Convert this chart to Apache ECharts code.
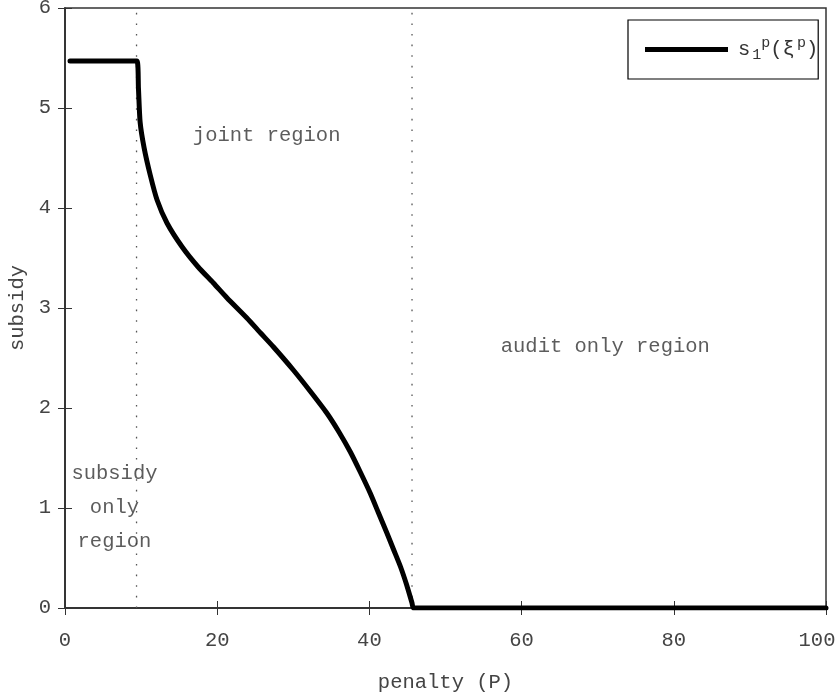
<!DOCTYPE html>
<html>
<head>
<meta charset="utf-8">
<script src="https://cdn.jsdelivr.net/npm/echarts@6/dist/echarts.min.js"></script>
<style>
  html, body { margin: 0; padding: 0; background: #fff; }
  #chart { width: 840px; height: 699px; }
</style>
</head>
<body>
<div id="chart"></div>
<script>
  // subsidy s_1^p(xi^p) against penalty P
  var penalty = [0.66, 9.45, 9.65, 9.87, 10.4, 11.2, 12.1, 13.4, 15.4, 17.5, 19.5, 21.3, 23.9, 25.7, 27.4, 30.0, 32.2, 34.4, 36.0, 37.5, 38.8, 40.1, 41.2, 42.3, 43.2, 44.1, 44.9, 45.6, 45.8, 60, 80, 100];
  var subsidy = [5.47, 5.47, 5.20, 4.86, 4.60, 4.33, 4.08, 3.85, 3.61, 3.41, 3.25, 3.10, 2.90, 2.75, 2.61, 2.38, 2.17, 1.95, 1.76, 1.56, 1.36, 1.15, 0.95, 0.75, 0.58, 0.41, 0.23, 0.05, 0.0, 0.0, 0.0, 0.0];
  var regionBounds = [9.4, 45.6];
  var xTicks = [0, 20, 40, 60, 80, 100];
  var yTicks = [0, 1, 2, 3, 4, 5, 6];
  var regionLabels = ['joint region', 'audit only region', 'subsidy\nonly\nregion'];
  var regionLabelPos = [[26.5, 4.72], [71, 2.61], [6.5, 1.0]];

  var FONT = '"Liberation Mono", "DejaVu Sans Mono", monospace';
  var FS = 20.5;
  var chart = echarts.init(document.getElementById('chart'), null, { renderer: 'canvas' });

  var lineData = penalty.map(function (p, i) { return [p, subsidy[i]]; });
  var boundSeries = regionBounds.map(function (b) {
    return {
      type: 'line', silent: true, symbol: 'none', animation: false,
      data: [[b, 0], [b, 6]],
      lineStyle: { color: '#555', width: 1.3, type: [1.6, 9] }
    };
  });
  var labelData = regionLabels.map(function (t, i) {
    return { value: regionLabelPos[i], name: t };
  });

  var axisText = { color: '#444', fontFamily: FONT, fontSize: FS };

  chart.setOption({
    animation: false,
    grid: {
      left: 65, right: 14, top: 8, bottom: 91, show: true,
      borderColor: '#333', borderWidth: 1.5,
      containLabel: false, outerBoundsMode: 'none'
    },
    legend: {
      data: ['s1p'],
      left: 628, top: 20,
      padding: [16, 0, 16, 17],
      borderColor: '#000', borderWidth: 1.2, backgroundColor: '#fff',
      icon: 'rect', itemWidth: 83, itemHeight: 5,
      itemStyle: { color: '#000' },
      formatter: function () { return '{g| }s{sp| }{sub|1}{sup|p}(ξ{sp| }{sup|p})'; },
      textStyle: {
        color: '#333', fontFamily: FONT, fontSize: FS,
        rich: {
          g: { width: 5 },
          sp: { width: 2 },
          sub: { fontFamily: FONT, fontSize: 15, color: '#333', verticalAlign: 'bottom', padding: [12, 0, 0, 0] },
          sup: { fontFamily: FONT, fontSize: 15, color: '#333', verticalAlign: 'top', padding: [0, 0, 10, 0] }
        }
      }
    },
    xAxis: [{
      type: 'value', min: 0, max: 100, interval: 20,
      name: 'penalty (P)', nameLocation: 'middle', nameGap: 64,
      nameTextStyle: axisText,
      axisLine: { show: true, lineStyle: { color: '#333', width: 1.5 } },
      axisTick: { show: true, inside: true, length: 7, lineStyle: { color: '#333' } },
      axisLabel: Object.assign({
        margin: 22,
        formatter: function (v) {
          if (xTicks.indexOf(v) < 0) return '';
          return v === 100 ? '{r|' + v + '}' : String(v);
        },
        rich: { r: { fontFamily: FONT, fontSize: FS, color: '#444', padding: [0, 18, 0, 0] } }
      }, axisText),
      splitLine: { show: false }
    }, {
      type: 'value', min: 0, max: 100, interval: 20, position: 'top',
      axisLine: { show: true, lineStyle: { color: '#333', width: 1.5 } },
      axisTick: { show: true, inside: true, length: 7, lineStyle: { color: '#333' } },
      axisLabel: { show: false }, splitLine: { show: false }
    }],
    yAxis: [{
      type: 'value', min: 0, max: 6, interval: 1,
      name: 'subsidy', nameLocation: 'middle', nameGap: 33, nameRotate: 90,
      nameTextStyle: axisText,
      axisLine: { show: true, lineStyle: { color: '#333', width: 1.5 } },
      axisTick: { show: true, inside: true, length: 7, lineStyle: { color: '#333' } },
      axisLabel: Object.assign({ margin: 14, formatter: function (v) { return yTicks.indexOf(v) >= 0 ? String(v) : ''; } }, axisText),
      splitLine: { show: false }
    }, {
      type: 'value', min: 0, max: 6, interval: 1, position: 'right',
      axisLine: { show: true, lineStyle: { color: '#333', width: 1.5 } },
      axisTick: { show: true, inside: true, length: 7, lineStyle: { color: '#333' } },
      axisLabel: { show: false }, splitLine: { show: false }
    }],
    series: boundSeries.concat([{
      name: 's1p', type: 'line', symbol: 'none', smooth: 0.2, z: 5,
      data: lineData,
      itemStyle: { color: '#000' },
      lineStyle: { color: '#000', width: 5, join: 'round', cap: 'round' }
    }, {
      type: 'scatter', silent: true, symbolSize: 0, z: 6,
      data: labelData,
      label: {
        show: true, position: 'inside', formatter: '{b}',
        color: '#333', fontFamily: FONT, fontSize: FS, lineHeight: 34, align: 'center'
      }
    }])
  });
</script>
</body>
</html>
